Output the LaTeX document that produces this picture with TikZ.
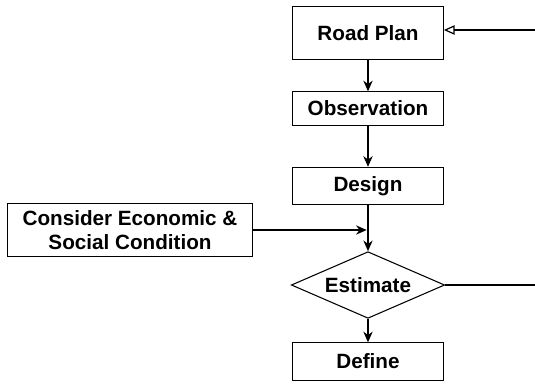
\documentclass[tikz,border=0pt]{standalone}
\usepackage{fontspec}
\setmainfont{Liberation Sans}
\usepackage{tikz}
\usetikzlibrary{positioning,arrows.meta,shapes.geometric}
\tikzstyle{stepbox}  = [rectangle, draw=black, line width=0.8pt, minimum width=113pt, text centered, font=\bfseries\fontsize{15.5}{18}\selectfont]
\tikzstyle{decision} = [diamond, draw=black, line width=0.8pt, minimum width=115pt, minimum height=50pt, inner sep=0pt, aspect=2.3, font=\bfseries\fontsize{15.5}{18}\selectfont]
\tikzstyle{arrow}    = [line width=0.9pt,-{Stealth[length=8pt,width=7pt]}]
\tikzstyle{link}     = [line width=0.9pt]

\begin{document}
\begin{tikzpicture}[x=0.75pt,y=-0.75pt]
        \useasboundingbox (0,0) rectangle (535,386);

        \node[stepbox, minimum height=40pt] (plan) at (368,33) {Road Plan};
        \node[stepbox, minimum height=25pt] (obs) at (368,108.5) {Observation};
        \node[stepbox, minimum height=28pt] (design) at (368,186) {Design};
        \node[stepbox, minimum width=184pt, minimum height=40pt, align=center] (consider) at (130,230) {Consider Economic \&\\Social Condition};
        \node[decision] (estimate) at (368,285) {Estimate};
        \node[stepbox, minimum height=28pt] (define) at (368,361.5) {Define};

        \coordinate (join) at (consider.east -| design.south);
        \coordinate (outR) at (535,285);
        \coordinate (inR) at (535,30);

        \draw[arrow] (plan) -- (obs);
        \draw[arrow] (obs) -- (design);
        \draw[arrow] (design) -- (estimate);
        \draw[arrow] (estimate) -- (define);
        \draw[arrow, shorten >=1pt] (consider.east) -- (join);
        \draw[link] (estimate.east) -- (outR);
        \draw[line width=0.9pt,-{Triangle[open,length=8pt,width=7pt]}] (inR) -- (inR -| plan.east);
\end{tikzpicture}
\end{document}
